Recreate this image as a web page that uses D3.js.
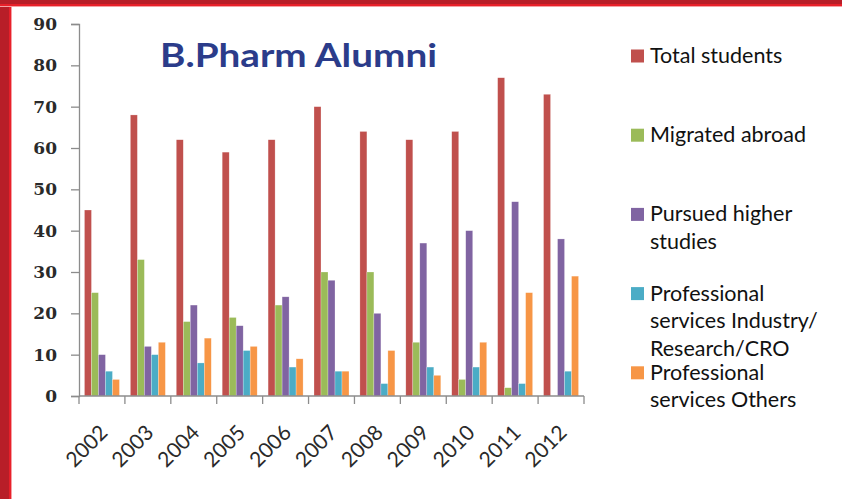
<!DOCTYPE html>
<html>
<head>
<meta charset="utf-8">
<script src="https://cdn.jsdelivr.net/npm/d3@7"></script>
<style>
  html, body { margin: 0; padding: 0; background: #fff; }
  svg { display: block; }
</style>
</head>
<body>
<div id="chart"></div>
<script>
// Data
const years = ["2002", "2003", "2004", "2005", "2006", "2007", "2008", "2009", "2010", "2011", "2012"];
const seriesNames = [
  "Total students",
  "Migrated abroad",
  "Pursued higher studies",
  "Professional services Industry/ Research/CRO",
  "Professional services Others"
];
const totalStudents   = [45, 68, 62, 59, 62, 70, 64, 62, 64, 77, 73];
const migratedAbroad  = [25, 33, 18, 19, 22, 30, 30, 13, 4, 2, 0];
const pursuedHigher   = [10, 12, 22, 17, 24, 28, 20, 37, 40, 47, 38];
const profIndustry    = [6, 10, 8, 11, 7, 6, 3, 7, 7, 3, 6];
const profOthers      = [4, 13, 14, 12, 9, 6, 11, 5, 13, 25, 29];
const yTicks = [0, 10, 20, 30, 40, 50, 60, 70, 80, 90];
// legend text split into lines as in the picture
const legendLines = [
  ["Total students"],
  ["Migrated abroad"],
  ["Pursued higher", "studies"],
  ["Professional", "services Industry/", "Research/CRO"],
  ["Professional", "services Others"]
];
const colors = ["#C0504D", "#9BBB59", "#8064A2", "#4BACC6", "#F79646"];

const allSeries = [totalStudents, migratedAbroad, pursuedHigher, profIndustry, profOthers];
const rows = years.map((y, i) => ({
  year: y,
  values: allSeries.map((s, k) => ({ key: seriesNames[k], value: s[i], k }))
}));

const W = 842, H = 499;
const plot = { left: 79, right: 584, top: 24, bottom: 396 };

const svg = d3.select("#chart").append("svg")
  .attr("width", W)
  .attr("height", H);

svg.append("rect").attr("width", W).attr("height", H).attr("fill", "#fff");

// red frame (left and top)
svg.append("rect").attr("x", 0).attr("y", 0).attr("width", 12).attr("height", H).attr("fill", "#F5A0A4");
svg.append("rect").attr("x", 0).attr("y", 0).attr("width", 11).attr("height", H).attr("fill", "#E8202A");
svg.append("rect").attr("x", 0).attr("y", 0).attr("width", 9).attr("height", H).attr("fill", "#B81E28");
svg.append("rect").attr("x", 0).attr("y", 0).attr("width", W).attr("height", 7).attr("fill", "#F5A0A4");
svg.append("rect").attr("x", 0).attr("y", 0).attr("width", W).attr("height", 6).attr("fill", "#E8202A");
svg.append("rect").attr("x", 0).attr("y", 0).attr("width", W).attr("height", 4).attr("fill", "#B81E28");

// scales
const x0 = d3.scaleBand()
  .domain(years)
  .range([plot.left, plot.right])
  .padding(0);

const x1 = d3.scaleBand()
  .domain(d3.range(seriesNames.length))
  .range([0, x0.bandwidth()])
  .paddingInner(0)
  .paddingOuter(0.78);

const y = d3.scaleLinear()
  .domain([0, 90])
  .range([plot.bottom, plot.top]);

// y axis
const yAxis = svg.append("g")
  .attr("transform", `translate(${plot.left},0)`)
  .call(d3.axisLeft(y).tickValues(yTicks).tickSize(8).tickPadding(14));
yAxis.selectAll("path, line").attr("stroke", "#8C8C8C").attr("stroke-width", 1.3);
yAxis.selectAll("text")
  .attr("font-family", "'DejaVu Serif', serif")
  .attr("font-weight", "bold")
  .attr("font-size", 17)
  .attr("fill", "#2a2a2a");

// bars
const groups = svg.append("g").selectAll("g")
  .data(rows)
  .join("g")
  .attr("transform", d => `translate(${x0(d.year)},0)`);

groups.selectAll("rect")
  .data(d => d.values)
  .join("rect")
  .attr("x", d => x1(d.k))
  .attr("y", d => y(d.value))
  .attr("width", x1.bandwidth())
  .attr("height", d => y(0) - y(d.value))
  .attr("fill", d => colors[d.k])
  .attr("stroke", "#fff")
  .attr("stroke-opacity", 0.5)
  .attr("stroke-width", 0.5);

// x axis with ticks at category boundaries
const xAxis = svg.append("g")
  .attr("transform", `translate(0,${plot.bottom})`);
xAxis.append("line")
  .attr("x1", plot.left).attr("x2", plot.right)
  .attr("stroke", "#8C8C8C").attr("stroke-width", 1.3);
const bounds = years.map(d => x0(d)).concat([plot.right]);
xAxis.selectAll(".xtick")
  .data(bounds)
  .join("line")
  .attr("class", "xtick")
  .attr("x1", d => d).attr("x2", d => d)
  .attr("y1", 0).attr("y2", 8)
  .attr("stroke", "#8C8C8C").attr("stroke-width", 1.3);
xAxis.selectAll(".xlabel")
  .data(years)
  .join("text")
  .attr("class", "xlabel")
  .attr("transform", d => `translate(${x0(d) + x0.bandwidth() / 2 + 7},${38}) rotate(-45)`)
  .attr("text-anchor", "end")
  .attr("font-family", "Lato, sans-serif")
  .attr("font-size", 21)
  .attr("fill", "#2a2a2a")
  .text(d => d);

// title
svg.append("text")
  .attr("x", 160)
  .attr("y", 67)
  .attr("font-family", "Lato, sans-serif")
  .attr("font-weight", "bold")
  .attr("font-size", 33)
  .attr("fill", "#2B3C8A")
  .attr("textLength", 277)
  .attr("lengthAdjust", "spacingAndGlyphs")
  .text("B.Pharm Alumni");

// legend
const legend = svg.append("g").selectAll("g")
  .data(legendLines)
  .join("g")
  .attr("transform", (d, i) => `translate(631,${56 + i * 79.2})`);

legend.append("rect")
  .attr("x", 0)
  .attr("y", -6.5)
  .attr("width", 13)
  .attr("height", 13)
  .attr("fill", (d, i) => colors[i]);

legend.append("text")
  .attr("x", 19)
  .attr("y", 7)
  .attr("font-family", "Lato, sans-serif")
  .attr("font-size", 21.5)
  .attr("fill", "#111")
  .selectAll("tspan")
  .data(d => d)
  .join("tspan")
  .attr("x", 19)
  .attr("dy", (d, i) => i === 0 ? 0 : 27.5)
  .text(d => d);
</script>
</body>
</html>
